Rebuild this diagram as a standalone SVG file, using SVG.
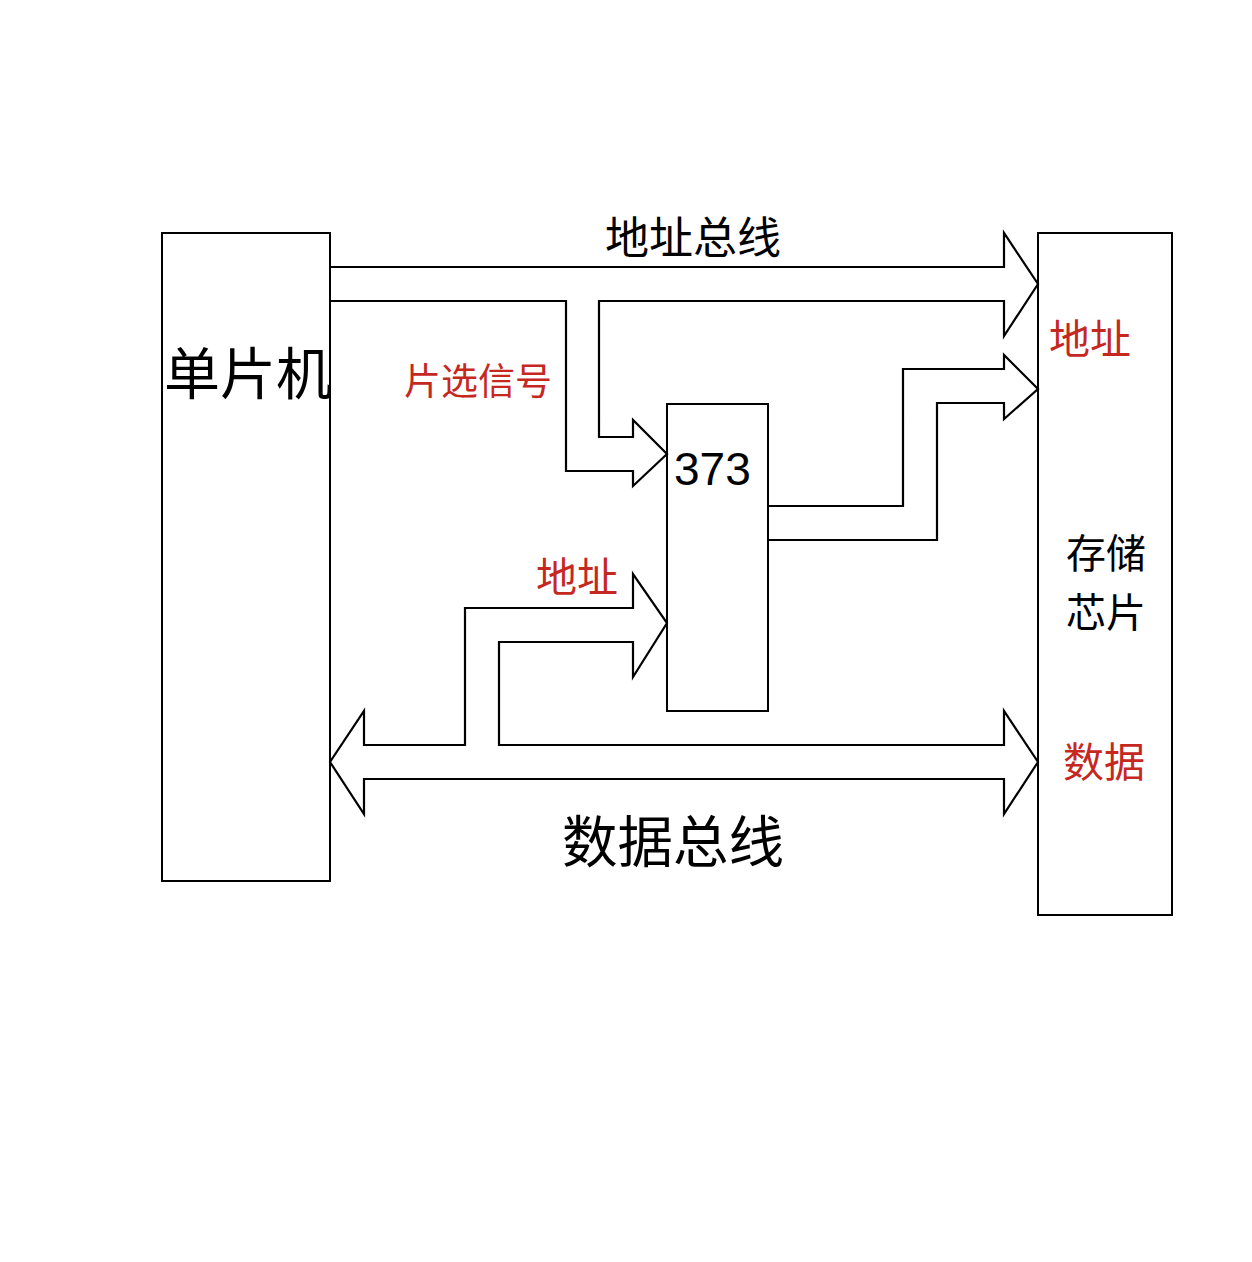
<svg xmlns="http://www.w3.org/2000/svg" width="1252" height="1262" viewBox="0 0 1252 1262">
<style>
.box{fill:#fff;stroke:#000;stroke-width:2}
.bus{fill:none;stroke:#000;stroke-width:2.2;stroke-linejoin:miter}
.t{font-family:"Noto Sans CJK SC","Noto Sans",sans-serif;fill:#000}
.r{fill:#c5281f}
.n{font-family:"Liberation Sans",Arial,sans-serif;fill:#000}
</style>
<rect width="1252" height="1262" fill="#fff"/>
<g id="mcu">
<rect class="box" x="162" y="233" width="168" height="648"/>
<text class="t" x="164" y="394" font-size="56">单片机</text>
</g>
<g id="memory">
<rect class="box" x="1038" y="233" width="134" height="682"/>
<text class="t r" x="1049" y="354" font-size="41">地址</text>
<text class="t" x="1066" y="568" font-size="40">存储</text>
<text class="t" x="1066" y="627" font-size="40">芯片</text>
<text class="t r" x="1063" y="777" font-size="41">数据</text>
</g>
<g id="latch373">
<rect class="box" x="667" y="404" width="101" height="307"/>
<text class="n" x="674" y="485" font-size="46">373</text>
</g>
<g id="connectors">
<path class="bus" d="M330,267 H1004 V233 L1038,284 L1004,336 V301 H599 V437 H633 V420 L667,454 L633,486 V471 H566 V301 H330"/>
<path class="bus" d="M768,506 H903 V369 H1004 V355 L1038,389 L1004,419 V403 H937 V540 H768"/>
<path class="bus" d="M364,745 H465 V608 H633 V574 L667,623 L633,677 V642 H499 V745 H1004 V711 L1038,762 L1004,814 V779 H364 V814 L330,762 L364,711 Z"/>
</g>
<g id="labels">
<text class="t" x="605" y="254" font-size="44">地址总线</text>
<text class="t r" x="404" y="395" font-size="37">片选信号</text>
<text class="t r" x="536" y="592" font-size="41">地址</text>
<text class="t" x="562" y="862" font-size="55.5">数据总线</text>
</g>
</svg>
